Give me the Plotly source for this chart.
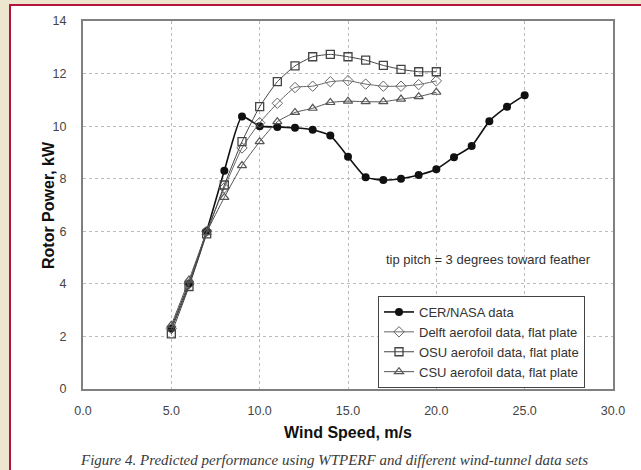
import plotly.graph_objects as go

# ---- data ----
wind_cer = [5, 6, 7, 8, 9, 10, 11, 12, 13, 14, 15, 16, 17, 18, 19, 20, 21, 22, 23, 24, 25]
power_cer = [2.3, 4.0, 6.0, 8.3, 10.37, 10.0, 9.97, 9.94, 9.86, 9.64, 8.84, 8.06, 7.95, 8.0, 8.14, 8.36, 8.82, 9.24, 10.19, 10.74, 11.18]

wind_tunnel = [5, 6, 7, 8, 9, 10, 11, 12, 13, 14, 15, 16, 17, 18, 19, 20]
power_delft = [2.3, 4.0, 6.0, 7.65, 9.17, 10.13, 10.87, 11.47, 11.52, 11.69, 11.73, 11.6, 11.52, 11.52, 11.58, 11.72]
power_osu = [2.1, 3.9, 5.9, 7.76, 9.41, 10.74, 11.69, 12.29, 12.64, 12.73, 12.64, 12.51, 12.31, 12.16, 12.07, 12.07]
power_csu = [2.43, 4.15, 5.95, 7.29, 8.5, 9.41, 10.17, 10.52, 10.68, 10.9, 10.95, 10.93, 10.93, 11.03, 11.12, 11.29]

series_names = ["CER/NASA data", "Delft aerofoil data, flat plate",
                "OSU aerofoil data, flat plate", "CSU aerofoil data, flat plate"]

x_ticks = [0, 5, 10, 15, 20, 25, 30]
x_tick_labels = ["0.0", "5.0", "10.0", "15.0", "20.0", "25.0", "30.0"]
y_ticks = [0, 2, 4, 6, 8, 10, 12, 14]

x_title = "Wind Speed, m/s"
y_title = "Rotor Power, kW"
note_text = "tip pitch = 3 degrees toward feather"
caption_text = "Figure 4. Predicted performance using WTPERF and different wind-tunnel data sets"

# ---- figure ----
W, H = 641, 470
L, R, T, B = 83, 28, 21, 81
pw, ph = W - L - R, H - T - B

def px_x(p):
    return (p - L) / pw

def px_y(p):
    return (H - B - p) / ph

fig = go.Figure()

common_line = dict(shape="spline", smoothing=0.5)
fig.add_trace(go.Scatter(
    x=wind_cer, y=power_cer, name=series_names[0], mode="lines+markers",
    line=dict(color="#111111", width=1.6, **common_line),
    marker=dict(symbol="circle", size=8, color="#111111"),
))
fig.add_trace(go.Scatter(
    x=wind_tunnel, y=power_delft, name=series_names[1], mode="lines+markers",
    line=dict(color="#666666", width=1, **common_line),
    marker=dict(symbol="diamond-open", size=8, color="#666666", line=dict(width=1)),
))
fig.add_trace(go.Scatter(
    x=wind_tunnel, y=power_osu, name=series_names[2], mode="lines+markers",
    line=dict(color="#444444", width=1, **common_line),
    marker=dict(symbol="square-open", size=8, color="#444444", line=dict(width=1.3)),
))
fig.add_trace(go.Scatter(
    x=wind_tunnel, y=power_csu, name=series_names[3], mode="lines+markers",
    line=dict(color="#555555", width=1, **common_line),
    marker=dict(symbol="triangle-up-open", size=8, color="#555555", line=dict(width=1.2)),
))

# white panel with red border over beige page
fig.add_shape(type="rect", xref="paper", yref="paper",
              x0=px_x(10), x1=px_x(660), y0=px_y(490), y1=px_y(5),
              fillcolor="white", line=dict(color="#b3163a", width=2), layer="below")

sans = "Liberation Sans, Arial"
fig.add_annotation(text=note_text, xref="paper", yref="paper",
                   x=px_x(488), y=px_y(259), xanchor="center", yanchor="middle",
                   showarrow=False, font=dict(family=sans, size=13, color="#333333"))

fig.add_annotation(text="<b>" + x_title + "</b>", xref="paper", yref="paper",
                   x=px_x(348), y=px_y(432), xanchor="center", yanchor="middle",
                   showarrow=False, font=dict(family=sans, size=16, color="#111111"))

fig.add_annotation(text="<b>" + y_title + "</b>", xref="paper", yref="paper",
                   x=px_x(48), y=px_y(205), xanchor="center", yanchor="middle",
                   textangle=-90, showarrow=False,
                   font=dict(family=sans, size=16, color="#111111"))

fig.add_annotation(text="<i>" + caption_text + "</i>", xref="paper", yref="paper",
                   x=px_x(334), y=px_y(460), xanchor="center", yanchor="middle",
                   showarrow=False,
                   font=dict(family="Liberation Serif, Times New Roman", size=15, color="#3a3a3a"))

axis_common = dict(
    showline=True, mirror=True, linecolor="#808080", linewidth=2,
    showgrid=True, gridcolor="#bbbbbb", griddash="dot", gridwidth=1,
    zeroline=False, ticks="",
    tickfont=dict(family=sans, size=12.5, color="#444444"),
)

fig.update_xaxes(range=[0, 30], tickvals=x_ticks, ticktext=x_tick_labels,
                 ticklabelstandoff=9, **axis_common)
fig.update_yaxes(range=[0, 14], tickvals=y_ticks,
                 ticklabelstandoff=12, **axis_common)

fig.update_layout(
    width=W, height=H,
    margin=dict(l=L, r=R, t=T, b=B),
    paper_bgcolor="#eee5cf", plot_bgcolor="white",
    font=dict(family=sans),
    legend=dict(x=px_x(378), y=px_y(296), xanchor="left", yanchor="top",
                bgcolor="white", bordercolor="#444444", borderwidth=1,
                font=dict(family=sans, size=13, color="#333333"),
                itemwidth=30, tracegroupgap=0),
    showlegend=True,
)

fig.write_html("out.html",
               config={"displayModeBar": False},
               post_script="document.body.style.margin='0';document.body.style.background='#eee5cf';")
